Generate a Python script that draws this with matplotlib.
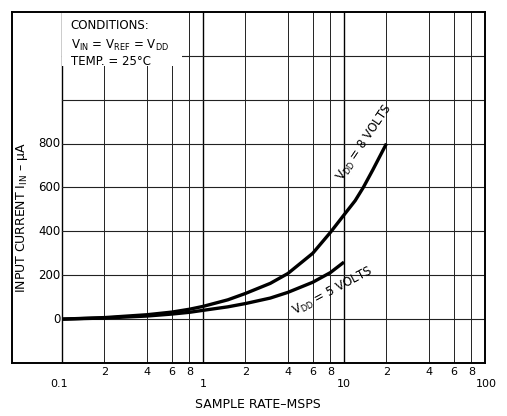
import matplotlib.pyplot as plt
from matplotlib.patches import Rectangle
from matplotlib.transforms import blended_transform_factory

# Data
rate_8v = [0.1, 0.2, 0.4, 0.6, 0.8, 1, 1.5, 2, 3, 4, 6, 8, 10, 12, 13.7, 16, 20]
current_8v = [0, 7, 20, 32, 45, 58, 88, 117, 163, 208, 300, 395, 475, 540, 600, 680, 800]

rate_5v = [0.1, 0.2, 0.4, 0.6, 0.8, 1, 1.5, 2, 3, 4, 6, 8, 10]
current_5v = [0, 5, 14, 23, 31, 40, 56, 71, 96, 122, 168, 212, 260]

y_labels = [0, 200, 400, 600, 800]
grid_y = [0, 200, 400, 600, 800, 1000, 1200]
decades = [0.1, 1, 10, 100]
decade_labels = ["0.1", "1", "10", "100"]
minor_x = [0.2, 0.4, 0.6, 0.8, 2, 4, 6, 8, 20, 40, 60, 80]
minor_labels = ["2", "4", "6", "8"] * 3

fig = plt.figure(figsize=(5.07, 4.16), dpi=100)
ax = fig.add_axes([0.0237, 0.1274, 0.9329, 0.8438])
ax.set_xscale("log")
ax.set_xlim(0.0442, 100)
ax.set_ylim(-200, 1400)

for s in ax.spines.values():
    s.set_linewidth(1.4)

# Grid
for x in decades[:-1]:
    ax.axvline(x, color="black", lw=1.0, zorder=1)
for x in minor_x:
    ax.axvline(x, color="#222222", lw=0.7, zorder=1)
for y in grid_y:
    ax.plot([0.1, 100], [y, y], color="#222222", lw=0.8, zorder=1)

# Curves
ax.plot(rate_8v, current_8v, color="black", lw=2.4, zorder=3, solid_capstyle="butt")
ax.plot(rate_5v, current_5v, color="black", lw=2.4, zorder=3, solid_capstyle="butt")

# Tick labels drawn as text
ax.set_xticks([])
ax.set_yticks([])
ax.minorticks_off()
for v in y_labels:
    ax.text(0.097, v, str(v), ha="right", va="center", fontsize=8.5, zorder=4)

trans = blended_transform_factory(ax.transData, ax.transAxes)
for x, lab in zip(minor_x, minor_labels):
    ax.text(x, -0.012, lab, transform=trans, ha="center", va="top", fontsize=8, clip_on=False)
for x, lab in zip(decades, decade_labels):
    ax.text(x * (1.03 if x == 100 else 0.96 if x == 0.1 else 1), -0.045, lab, transform=trans,
            ha="center", va="top", fontsize=8, clip_on=False)

# Conditions box
ax.add_patch(Rectangle((0.1, 1155), 0.61, 245, facecolor="white", edgecolor="none", zorder=2))
ax.text(0.115, 1338, "CONDITIONS:", fontsize=8.5, va="center", zorder=5)
ax.text(0.115, 1248, r"V$_{\mathrm{IN}}$ = V$_{\mathrm{REF}}$ = V$_{\mathrm{DD}}$", fontsize=8.5,
        va="center", zorder=5)
ax.text(0.115, 1175, "TEMP. = 25°C", fontsize=8.5, va="center", zorder=5)

# Curve labels
ax.text(14.0, 805, r"V$_{\mathrm{DD}}$ = 8 VOLTS", rotation=56, ha="center", va="center",
        fontsize=8.5, zorder=5)
ax.text(8.3, 126, r"V$_{\mathrm{DD}}$ = 5 VOLTS", rotation=28, ha="center", va="center",
        fontsize=8.5, zorder=5)

# Axis titles
ax.text(0.021, 0.413, r"INPUT CURRENT I$_{\mathrm{IN}}$ – μA", transform=ax.transAxes, rotation=90,
        ha="center", va="center", fontsize=9)
fig.text(258 / 507, 1 - 405 / 416, "SAMPLE RATE–MSPS", ha="center", va="center", fontsize=9)

fig.savefig("out.png", dpi=100)
